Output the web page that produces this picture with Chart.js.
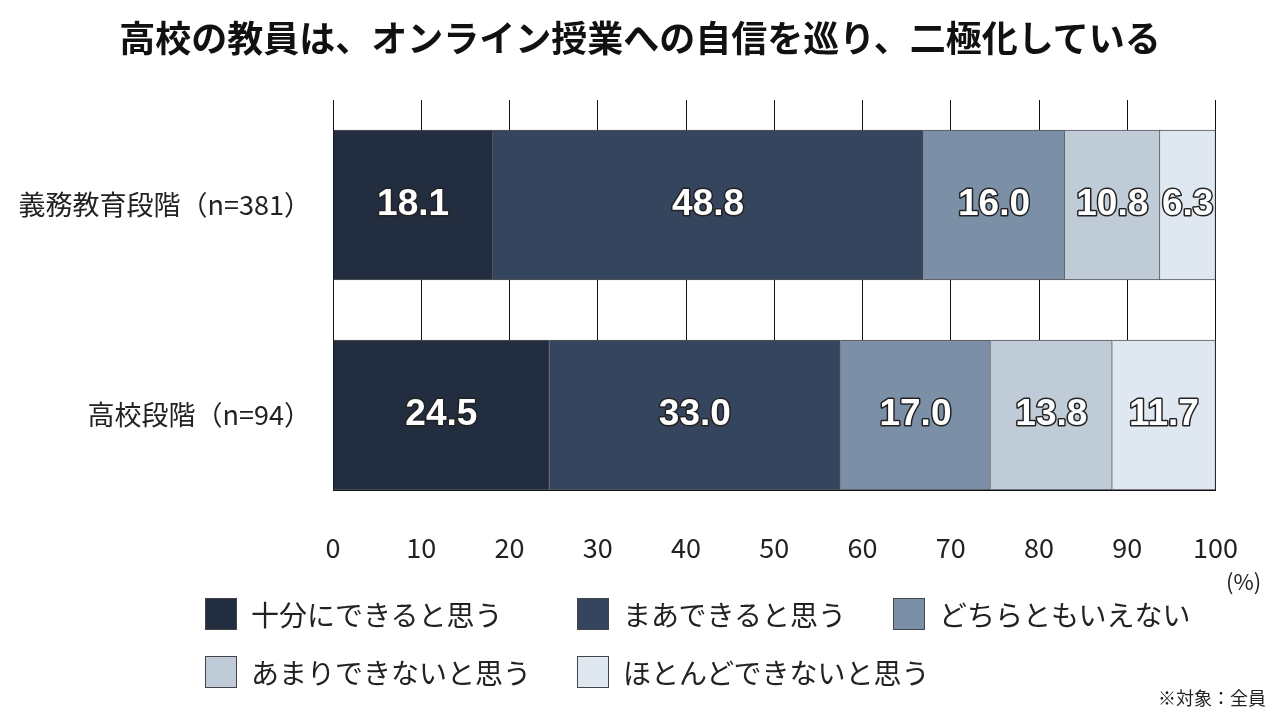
<!DOCTYPE html>
<html><head><meta charset="utf-8">
<script src="https://cdn.jsdelivr.net/npm/chart.js@4"></script>
<style>
body{margin:0;width:1280px;height:720px;background:#fff;font-family:"Noto Sans CJK JP",sans-serif;position:relative;overflow:hidden}
#title{position:absolute;top:10px;left:0;width:1280px;text-align:center;font-size:36px;font-weight:bold;color:#111}
#wrap{position:absolute;left:0;top:0;width:1280px;height:720px}
#pct{position:absolute;left:1226px;top:564px;font-size:22px;color:#222}
#note{position:absolute;right:14px;top:684px;font-size:18px;color:#222}
#legend{position:absolute;left:205px;top:594px;width:1060px;font-size:28px;color:#222}
.item{position:absolute;display:flex;align-items:center;white-space:nowrap}
.box{width:32px;height:32px;margin-right:14px;border:1px solid #444;box-sizing:border-box}
</style></head><body>
<div id="wrap"><canvas id="c" width="1280" height="720"></canvas></div>
<div id="title">高校の教員は、オンライン授業への自信を巡り、二極化している</div>
<div id="pct">(%)</div>
<div id="legend"></div>
<div id="note">※対象：全員</div>
<script>
const groups = ['義務教育段階（n=381）', '高校段階（n=94）'];
const answers = ['十分にできると思う', 'まあできると思う', 'どちらともいえない', 'あまりできないと思う', 'ほとんどできないと思う'];
const colors = ['#222d40', '#34455d', '#7b90a6', '#bfccd8', '#dfe8f1'];
const values = [
	[18.1, 24.5],
	[48.8, 33.0],
	[16.0, 17.0],
	[10.8, 13.8],
	[6.3, 11.7],
];
const xTicks = [0, 10, 20, 30, 40, 50, 60, 70, 80, 90, 100];

// legend: 3 in first row, 2 in second
const legendPos = [[0, 0], [372, 0], [688, 0], [0, 58], [372, 58]];
const legend = document.getElementById('legend');
answers.forEach((a, i) => {
	const d = document.createElement('div');
	d.className = 'item';
	d.style.left = legendPos[i][0] + 'px';
	d.style.top = legendPos[i][1] + 'px';
	d.innerHTML = `<span class="box" style="background:${colors[i]}"></span>${a}`;
	legend.appendChild(d);
});

const labelPlugin = {
	id: 'segLabels',
	afterDatasetsDraw(chart) {
		const ctx = chart.ctx;
		ctx.save();
		ctx.font = 'bold 37px "Liberation Sans", sans-serif';
		ctx.textAlign = 'center';
		ctx.textBaseline = 'middle';
		ctx.lineJoin = 'round';
		ctx.lineWidth = 3;
		ctx.strokeStyle = '#222';
		ctx.fillStyle = '#fff';
		chart.data.datasets.forEach((ds, i) => {
			chart.getDatasetMeta(i).data.forEach((bar, j) => {
				const x = (bar.x + bar.base) / 2;
				const t = values[i][j].toFixed(1);
				ctx.strokeText(t, x, bar.y);
				ctx.fillText(t, x, bar.y);
			});
		});
		ctx.restore();
	},
};

new Chart(document.getElementById('c'), {
	type: 'bar',
	data: {
		datasets: answers.map((a, i) => ({
			label: a,
			data: values[i].map((v, j) => ({ x: v, y: j })),
			backgroundColor: colors[i],
			borderColor: '#555',
			borderWidth: 1,
			barThickness: 150,
		})),
	},
	options: {
		indexAxis: 'y',
		responsive: false,
		animation: false,
		layout: { padding: { top: 100, right: 0, left: 0, bottom: 0 } },
		plugins: { legend: { display: false }, tooltip: { enabled: false } },
		scales: {
			x: {
				type: 'linear',
				stacked: true,
				min: 0,
				max: 100,
				afterBuildTicks: (s) => { s.ticks = xTicks.map((v) => ({ value: v })); },
				afterFit: (s) => { s.height = 230; },
				grid: { color: '#111', lineWidth: 1, tickLength: 0 },
				border: { color: '#111' },
				ticks: { padding: 42, color: '#222', font: { size: 27, family: '"Noto Sans CJK JP"' } },
			},
			y: {
				type: 'linear',
				stacked: true,
				reverse: true,
				offset: false,
				min: -0.5,
				max: 1.357,
				afterBuildTicks: (s) => { s.ticks = groups.map((g, i) => ({ value: i })); },
				afterFit: (s) => { s.width = 333; },
				grid: { display: false, offset: false },
				border: { display: false },
				ticks: {
					padding: 14,
					color: '#222',
					font: { size: 27, family: '"Noto Sans CJK JP"' },
					callback: (v) => groups[v] ?? '',
				},
			},
		},
	},
	plugins: [labelPlugin],
});
</script>
</body></html>
